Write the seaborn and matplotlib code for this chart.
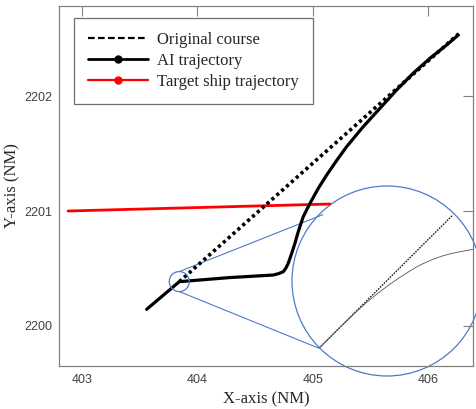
import numpy as np
import pandas as pd
import matplotlib
matplotlib.use("Agg")
import matplotlib.pyplot as plt
import seaborn as sns
from matplotlib.patches import Circle, Ellipse, ConnectionPatch
from matplotlib.lines import Line2D

# ---------------- data ----------------
course_x = [403.842, 406.268]
course_y = [2200.384, 2202.545]

ai_x = [403.559, 403.842, 404.282, 404.658, 404.707, 404.745, 404.768, 404.788,
        404.818, 404.846, 404.875, 404.918, 404.977, 405.049, 405.122, 405.208,
        405.295, 405.439, 405.584, 405.729, 405.873, 406.018, 406.163, 406.264]
ai_y = [2200.143, 2200.384, 2200.420, 2200.442, 2200.455, 2200.471, 2200.503,
        2200.544, 2200.631, 2200.718, 2200.820, 2200.950, 2201.067, 2201.198,
        2201.314, 2201.440, 2201.561, 2201.735, 2201.895, 2202.055, 2202.201,
        2202.331, 2202.447, 2202.534]

target_x = [402.876, 405.15]
target_y = [2201.000, 2201.061]

# zoomed-in view (inset, normalised coordinates)
zoom_course_x = [0.142, 0.846]
zoom_course_y = [0.146, 0.847]
zoom_ai_x = [0.142, 0.253, 0.358, 0.410, 0.463, 0.515, 0.568, 0.621, 0.674,
             0.727, 0.779, 0.832, 0.884, 0.954]
zoom_ai_y = [0.146, 0.257, 0.356, 0.402, 0.444, 0.483, 0.519, 0.553, 0.584,
             0.608, 0.628, 0.643, 0.654, 0.667]

x_ticks = [403, 404, 405, 406]
y_ticks = [2200, 2201, 2202]
labels = ["Original course", "AI trajectory", "Target ship trajectory"]
zoom_center = (403.842, 2200.385)

# ---------------- figure ----------------
sns.set_style("white")
plt.rcParams["font.family"] = ["Liberation Sans", "DejaVu Sans"]
W, H = 477, 409
fig = plt.figure(figsize=(W / 100, H / 100), dpi=100)
fig.patch.set_facecolor("white")

# inset (drawn beneath main axes)
cx, cy, r = 387, 281, 95
axin = fig.add_axes([(cx - r) / W, (H - cy - r) / H, 2 * r / W, 2 * r / H], zorder=0)
axin.set_xlim(0, 1)
axin.set_ylim(0, 1)
axin.axis("off")
circ = Circle((0.5, 0.5), 0.5, transform=axin.transAxes, facecolor="white",
              edgecolor="#4f7ac7", lw=0.9, clip_on=False, zorder=1)
axin.add_patch(circ)
zc = pd.DataFrame({"x": zoom_course_x, "y": zoom_course_y})
za = pd.DataFrame({"x": zoom_ai_x, "y": zoom_ai_y})
sns.lineplot(data=zc, x="x", y="y", ax=axin, color="#222222", lw=1.0,
             linestyle=(0, (1.2, 0.8)), sort=False, zorder=2)
sns.lineplot(data=za, x="x", y="y", ax=axin, color="#555555", lw=0.6,
             sort=False, zorder=2)
for ln in axin.lines:
    ln.set_clip_path(circ)
axin.set_xlabel("")
axin.set_ylabel("")

# main axes
ax = fig.add_axes([59 / W, (H - 366) / H, (473 - 59) / W, (366 - 6) / H], zorder=1)
ax.set_facecolor("none")

dc = pd.DataFrame({"x": course_x, "y": course_y})
da = pd.DataFrame({"x": ai_x, "y": ai_y})
dt = pd.DataFrame({"x": target_x, "y": target_y})
sns.lineplot(data=dt, x="x", y="y", ax=ax, color="red", lw=2.0, sort=False)
sns.lineplot(data=dc, x="x", y="y", ax=ax, color="black", lw=2.6,
             linestyle=(0, (0.9, 0.9)), sort=False)
sns.lineplot(data=da, x="x", y="y", ax=ax, color="black", lw=2.3, sort=False)

ax.set_xlim(402.798, 406.392)
ax.set_ylim(2199.649, 2202.787)
ax.set_xticks(x_ticks)
ax.set_yticks(y_ticks)
ax.tick_params(direction="in", length=7, width=0.8, color="#808080",
               labelsize=9, labelcolor="#404040", top=True, right=True,
               labeltop=False, labelright=False)
ax.tick_params(axis="x", pad=6)
ax.tick_params(axis="y", pad=4.5)
for s in ax.spines.values():
    s.set_visible(True)
    s.set_color("#808080")
    s.set_linewidth(0.9)

ax.set_xlabel("X-axis (NM)", family=["Liberation Serif"], fontsize=12, labelpad=4)
ax.set_ylabel("Y-axis (NM)", family=["Liberation Serif"], fontsize=12, labelpad=3)

# small zoom circle + connector lines
rx = 10 / 115.2
ry = 10 / 114.7
ax.add_patch(Ellipse(zoom_center, 2 * rx, 2 * ry, facecolor="none",
                     edgecolor="#4f7ac7", lw=0.9, zorder=3))
for dy, pt in [(ry, (0.162, 0.849)), (-ry, (0.142, 0.146))]:
    con = ConnectionPatch(xyA=(zoom_center[0], zoom_center[1] + dy), coordsA=ax.transData,
                          xyB=pt, coordsB=axin.transAxes, color="#4f7ac7", lw=0.8)
    fig.add_artist(con)

# legend
handles = [
    Line2D([], [], color="black", lw=1.6, linestyle=(0, (3, 1.5))),
    Line2D([], [], color="black", lw=2.0, marker="o", markersize=5),
    Line2D([], [], color="red", lw=1.6, marker="o", markersize=5),
]
leg = ax.legend(handles, labels, loc="upper left", bbox_to_anchor=(0.036, 0.967),
                borderaxespad=0, fancybox=False, framealpha=1, edgecolor="#707070",
                prop={"family": "Liberation Serif", "size": 12}, handlelength=3.6,
                handletextpad=0.55, labelspacing=0.3, borderpad=0.85, numpoints=1)
leg.get_frame().set_linewidth(0.9)

fig.savefig("out.png", dpi=100)
